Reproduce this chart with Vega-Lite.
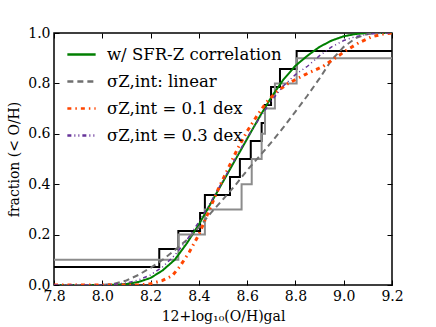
{
  "$schema": "https://vega.github.io/schema/vega-lite/v6.json",
  "width": 338,
  "height": 252,
  "autosize": {"type": "none"},
  "padding": {"left": 54, "top": 33, "right": 44, "bottom": 42},
  "background": "white",
  "config": {
    "view": {"stroke": "black", "strokeWidth": 1.5},
    "font": "DejaVu Serif",
    "axis": {
      "domain": false, "grid": false,
      "tickColor": "black", "tickSize": -5, "tickWidth": 1,
      "labelFont": "DejaVu Serif", "labelFontSize": 14, "labelColor": "black",
      "labelPadding": 9, "labelFlush": false, "labelOverlap": false,
      "titleFont": "DejaVu Serif", "titleFontSize": 14, "titleFontWeight": "normal", "titleColor": "black"
    },
    "legend": {
      "labelFont": "DejaVu Serif", "labelFontSize": 16.5, "labelColor": "black",
      "symbolType": "stroke", "symbolSize": 800, "symbolStrokeWidth": 2.5,
      "rowPadding": 3, "labelOffset": 10, "labelLimit": 400
    }
  },
  "datasets": {
    "steps": [
      {"s": "a", "x": 7.8, "y": 0.0714},
      {"s": "a", "x": 8.236, "y": 0.1429},
      {"s": "a", "x": 8.315, "y": 0.2143},
      {"s": "a", "x": 8.405, "y": 0.2857},
      {"s": "a", "x": 8.425, "y": 0.3571},
      {"s": "a", "x": 8.529, "y": 0.4286},
      {"s": "a", "x": 8.57, "y": 0.5},
      {"s": "a", "x": 8.615, "y": 0.5714},
      {"s": "a", "x": 8.66, "y": 0.6429},
      {"s": "a", "x": 8.674, "y": 0.7143},
      {"s": "a", "x": 8.699, "y": 0.7857},
      {"s": "a", "x": 8.736, "y": 0.8571},
      {"s": "a", "x": 8.805, "y": 0.9286},
      {"s": "a", "x": 9.2, "y": 0.9286},
      {"s": "b", "x": 7.8, "y": 0.1},
      {"s": "b", "x": 8.315, "y": 0.2},
      {"s": "b", "x": 8.425, "y": 0.3},
      {"s": "b", "x": 8.577, "y": 0.4},
      {"s": "b", "x": 8.619, "y": 0.5},
      {"s": "b", "x": 8.66, "y": 0.6},
      {"s": "b", "x": 8.674, "y": 0.7},
      {"s": "b", "x": 8.715, "y": 0.8},
      {"s": "b", "x": 8.805, "y": 0.9},
      {"s": "b", "x": 9.2, "y": 0.9}
    ],
    "curves": [
      {"s": "w/ SFR-Z correlation", "x": 7.8, "y": 0},
      {"s": "w/ SFR-Z correlation", "x": 8.0, "y": 0},
      {"s": "w/ SFR-Z correlation", "x": 8.05, "y": 0.001},
      {"s": "w/ SFR-Z correlation", "x": 8.1, "y": 0.004},
      {"s": "w/ SFR-Z correlation", "x": 8.15, "y": 0.012},
      {"s": "w/ SFR-Z correlation", "x": 8.2, "y": 0.028},
      {"s": "w/ SFR-Z correlation", "x": 8.25, "y": 0.058},
      {"s": "w/ SFR-Z correlation", "x": 8.3, "y": 0.1},
      {"s": "w/ SFR-Z correlation", "x": 8.35, "y": 0.165},
      {"s": "w/ SFR-Z correlation", "x": 8.4, "y": 0.24},
      {"s": "w/ SFR-Z correlation", "x": 8.45, "y": 0.325},
      {"s": "w/ SFR-Z correlation", "x": 8.5, "y": 0.41},
      {"s": "w/ SFR-Z correlation", "x": 8.55, "y": 0.495},
      {"s": "w/ SFR-Z correlation", "x": 8.6, "y": 0.58},
      {"s": "w/ SFR-Z correlation", "x": 8.65, "y": 0.665},
      {"s": "w/ SFR-Z correlation", "x": 8.7, "y": 0.745},
      {"s": "w/ SFR-Z correlation", "x": 8.75, "y": 0.815},
      {"s": "w/ SFR-Z correlation", "x": 8.8, "y": 0.87},
      {"s": "w/ SFR-Z correlation", "x": 8.85, "y": 0.91},
      {"s": "w/ SFR-Z correlation", "x": 8.9, "y": 0.945},
      {"s": "w/ SFR-Z correlation", "x": 8.95, "y": 0.97},
      {"s": "w/ SFR-Z correlation", "x": 9.0, "y": 0.987},
      {"s": "w/ SFR-Z correlation", "x": 9.05, "y": 0.996},
      {"s": "w/ SFR-Z correlation", "x": 9.1, "y": 1.0},
      {"s": "w/ SFR-Z correlation", "x": 9.2, "y": 1.0},
      {"s": "σZ,int: linear", "x": 7.8, "y": 0},
      {"s": "σZ,int: linear", "x": 8.0, "y": 0},
      {"s": "σZ,int: linear", "x": 8.05, "y": 0.005},
      {"s": "σZ,int: linear", "x": 8.1, "y": 0.018},
      {"s": "σZ,int: linear", "x": 8.15, "y": 0.04},
      {"s": "σZ,int: linear", "x": 8.2, "y": 0.068},
      {"s": "σZ,int: linear", "x": 8.25, "y": 0.1},
      {"s": "σZ,int: linear", "x": 8.3, "y": 0.138},
      {"s": "σZ,int: linear", "x": 8.35, "y": 0.179},
      {"s": "σZ,int: linear", "x": 8.4, "y": 0.228},
      {"s": "σZ,int: linear", "x": 8.45, "y": 0.286},
      {"s": "σZ,int: linear", "x": 8.5, "y": 0.34},
      {"s": "σZ,int: linear", "x": 8.55, "y": 0.395},
      {"s": "σZ,int: linear", "x": 8.6, "y": 0.455},
      {"s": "σZ,int: linear", "x": 8.65, "y": 0.51},
      {"s": "σZ,int: linear", "x": 8.7, "y": 0.566},
      {"s": "σZ,int: linear", "x": 8.75, "y": 0.625},
      {"s": "σZ,int: linear", "x": 8.8, "y": 0.688},
      {"s": "σZ,int: linear", "x": 8.85, "y": 0.752},
      {"s": "σZ,int: linear", "x": 8.9, "y": 0.82},
      {"s": "σZ,int: linear", "x": 8.95, "y": 0.893},
      {"s": "σZ,int: linear", "x": 9.0, "y": 0.945},
      {"s": "σZ,int: linear", "x": 9.05, "y": 0.98},
      {"s": "σZ,int: linear", "x": 9.1, "y": 0.996},
      {"s": "σZ,int: linear", "x": 9.15, "y": 1.0},
      {"s": "σZ,int: linear", "x": 9.2, "y": 1.0},
      {"s": "σZ,int = 0.1 dex", "x": 7.8, "y": 0},
      {"s": "σZ,int = 0.1 dex", "x": 8.15, "y": 0},
      {"s": "σZ,int = 0.1 dex", "x": 8.2, "y": 0.005},
      {"s": "σZ,int = 0.1 dex", "x": 8.25, "y": 0.018},
      {"s": "σZ,int = 0.1 dex", "x": 8.29, "y": 0.037},
      {"s": "σZ,int = 0.1 dex", "x": 8.32, "y": 0.072},
      {"s": "σZ,int = 0.1 dex", "x": 8.36, "y": 0.13},
      {"s": "σZ,int = 0.1 dex", "x": 8.4, "y": 0.2},
      {"s": "σZ,int = 0.1 dex", "x": 8.44, "y": 0.29},
      {"s": "σZ,int = 0.1 dex", "x": 8.48, "y": 0.38},
      {"s": "σZ,int = 0.1 dex", "x": 8.52, "y": 0.46},
      {"s": "σZ,int = 0.1 dex", "x": 8.56, "y": 0.54},
      {"s": "σZ,int = 0.1 dex", "x": 8.6, "y": 0.61},
      {"s": "σZ,int = 0.1 dex", "x": 8.64, "y": 0.67},
      {"s": "σZ,int = 0.1 dex", "x": 8.68, "y": 0.725},
      {"s": "σZ,int = 0.1 dex", "x": 8.72, "y": 0.765},
      {"s": "σZ,int = 0.1 dex", "x": 8.77, "y": 0.8},
      {"s": "σZ,int = 0.1 dex", "x": 8.84, "y": 0.835},
      {"s": "σZ,int = 0.1 dex", "x": 8.915, "y": 0.868},
      {"s": "σZ,int = 0.1 dex", "x": 8.964, "y": 0.9},
      {"s": "σZ,int = 0.1 dex", "x": 9.012, "y": 0.932},
      {"s": "σZ,int = 0.1 dex", "x": 9.064, "y": 0.962},
      {"s": "σZ,int = 0.1 dex", "x": 9.116, "y": 0.985},
      {"s": "σZ,int = 0.1 dex", "x": 9.163, "y": 0.996},
      {"s": "σZ,int = 0.1 dex", "x": 9.2, "y": 1.0},
      {"s": "σZ,int = 0.3 dex", "x": 7.8, "y": 0},
      {"s": "σZ,int = 0.3 dex", "x": 8.0, "y": 0},
      {"s": "σZ,int = 0.3 dex", "x": 8.05, "y": 0.003},
      {"s": "σZ,int = 0.3 dex", "x": 8.1, "y": 0.008},
      {"s": "σZ,int = 0.3 dex", "x": 8.15, "y": 0.02},
      {"s": "σZ,int = 0.3 dex", "x": 8.2, "y": 0.04},
      {"s": "σZ,int = 0.3 dex", "x": 8.25, "y": 0.072},
      {"s": "σZ,int = 0.3 dex", "x": 8.3, "y": 0.118},
      {"s": "σZ,int = 0.3 dex", "x": 8.35, "y": 0.178},
      {"s": "σZ,int = 0.3 dex", "x": 8.4, "y": 0.25},
      {"s": "σZ,int = 0.3 dex", "x": 8.45, "y": 0.33},
      {"s": "σZ,int = 0.3 dex", "x": 8.5, "y": 0.415},
      {"s": "σZ,int = 0.3 dex", "x": 8.55, "y": 0.5},
      {"s": "σZ,int = 0.3 dex", "x": 8.6, "y": 0.585},
      {"s": "σZ,int = 0.3 dex", "x": 8.65, "y": 0.66},
      {"s": "σZ,int = 0.3 dex", "x": 8.7, "y": 0.73},
      {"s": "σZ,int = 0.3 dex", "x": 8.75, "y": 0.79},
      {"s": "σZ,int = 0.3 dex", "x": 8.8, "y": 0.835},
      {"s": "σZ,int = 0.3 dex", "x": 8.85, "y": 0.868},
      {"s": "σZ,int = 0.3 dex", "x": 8.9, "y": 0.91},
      {"s": "σZ,int = 0.3 dex", "x": 8.95, "y": 0.945},
      {"s": "σZ,int = 0.3 dex", "x": 9.0, "y": 0.97},
      {"s": "σZ,int = 0.3 dex", "x": 9.05, "y": 0.986},
      {"s": "σZ,int = 0.3 dex", "x": 9.1, "y": 0.995},
      {"s": "σZ,int = 0.3 dex", "x": 9.15, "y": 1.0},
      {"s": "σZ,int = 0.3 dex", "x": 9.2, "y": 1.0}
    ]
  },
  "layer": [
    {
      "data": {"name": "steps"},
      "transform": [{"filter": {"field": "s", "equal": "a"}}],
      "mark": {"type": "line", "interpolate": "step-after", "color": "black", "strokeWidth": 2, "clip": true},
      "encoding": {
        "x": {"field": "x", "type": "quantitative", "scale": {"domain": [7.8, 9.2], "nice": false},
              "axis": {"orient": "top", "labels": false, "title": null, "values": [7.8, 8.0, 8.2, 8.4, 8.6, 8.8, 9.0, 9.2]}},
        "y": {"field": "y", "type": "quantitative", "scale": {"domain": [0, 1], "nice": false},
              "axis": {"orient": "right", "labels": false, "title": null, "values": [0, 0.2, 0.4, 0.6, 0.8, 1.0]}}
      }
    },
    {
      "data": {"name": "steps"},
      "transform": [{"filter": {"field": "s", "equal": "b"}}],
      "mark": {"type": "line", "interpolate": "step-after", "color": "#8c8c8c", "strokeWidth": 2, "clip": true},
      "encoding": {
        "x": {"field": "x", "type": "quantitative", "axis": null},
        "y": {"field": "y", "type": "quantitative", "axis": null}
      }
    },
    {
      "data": {"name": "curves"},
      "mark": {"type": "line", "clip": true, "strokeWidth": 2},
      "transform": [{"filter": {"field": "s", "oneOf": ["w/ SFR-Z correlation", "σZ,int: linear"]}}],
      "encoding": {
        "x": {"field": "x", "type": "quantitative",
              "axis": {"orient": "bottom", "title": "12+log₁₀(O/H)gal", "format": ".1f", "titlePadding": 6,
                       "values": [7.8, 8.0, 8.2, 8.4, 8.6, 8.8, 9.0, 9.2]}},
        "y": {"field": "y", "type": "quantitative",
              "axis": {"orient": "left", "title": "fraction (< O/H)", "format": ".1f", "titlePadding": 6,
                       "values": [0, 0.2, 0.4, 0.6, 0.8, 1.0]}},
        "color": {"field": "s", "type": "nominal",
                  "scale": {"domain": ["w/ SFR-Z correlation", "σZ,int: linear", "σZ,int = 0.1 dex", "σZ,int = 0.3 dex"],
                            "range": ["#007f00", "#707070", "#ff4500", "#663399"]},
                  "legend": {"title": null, "orient": "none", "legendX": 12, "legendY": 6}},
        "strokeDash": {"field": "s", "type": "nominal",
                  "scale": {"domain": ["w/ SFR-Z correlation", "σZ,int: linear", "σZ,int = 0.1 dex", "σZ,int = 0.3 dex"],
                            "range": [[1, 0], [6, 4], [4, 4, 1.5, 4], [4, 3, 1, 3, 1, 3]]},
                  "legend": {"title": null, "orient": "none", "legendX": 12, "legendY": 6}}
      }
    },
    {
      "data": {"name": "curves"},
      "mark": {"type": "line", "clip": true, "strokeWidth": 3},
      "transform": [{"filter": {"field": "s", "equal": "σZ,int = 0.1 dex"}}],
      "encoding": {
        "x": {"field": "x", "type": "quantitative", "axis": null},
        "y": {"field": "y", "type": "quantitative", "axis": null},
        "color": {"field": "s", "type": "nominal"},
        "strokeDash": {"field": "s", "type": "nominal"}
      }
    },
    {
      "data": {"name": "curves"},
      "mark": {"type": "line", "clip": true, "strokeWidth": 1.5},
      "transform": [{"filter": {"field": "s", "equal": "σZ,int = 0.3 dex"}}],
      "encoding": {
        "x": {"field": "x", "type": "quantitative", "axis": null},
        "y": {"field": "y", "type": "quantitative", "axis": null},
        "color": {"field": "s", "type": "nominal"},
        "strokeDash": {"field": "s", "type": "nominal"}
      }
    }
  ],
  "resolve": {"axis": {"x": "independent", "y": "independent"}}
}
